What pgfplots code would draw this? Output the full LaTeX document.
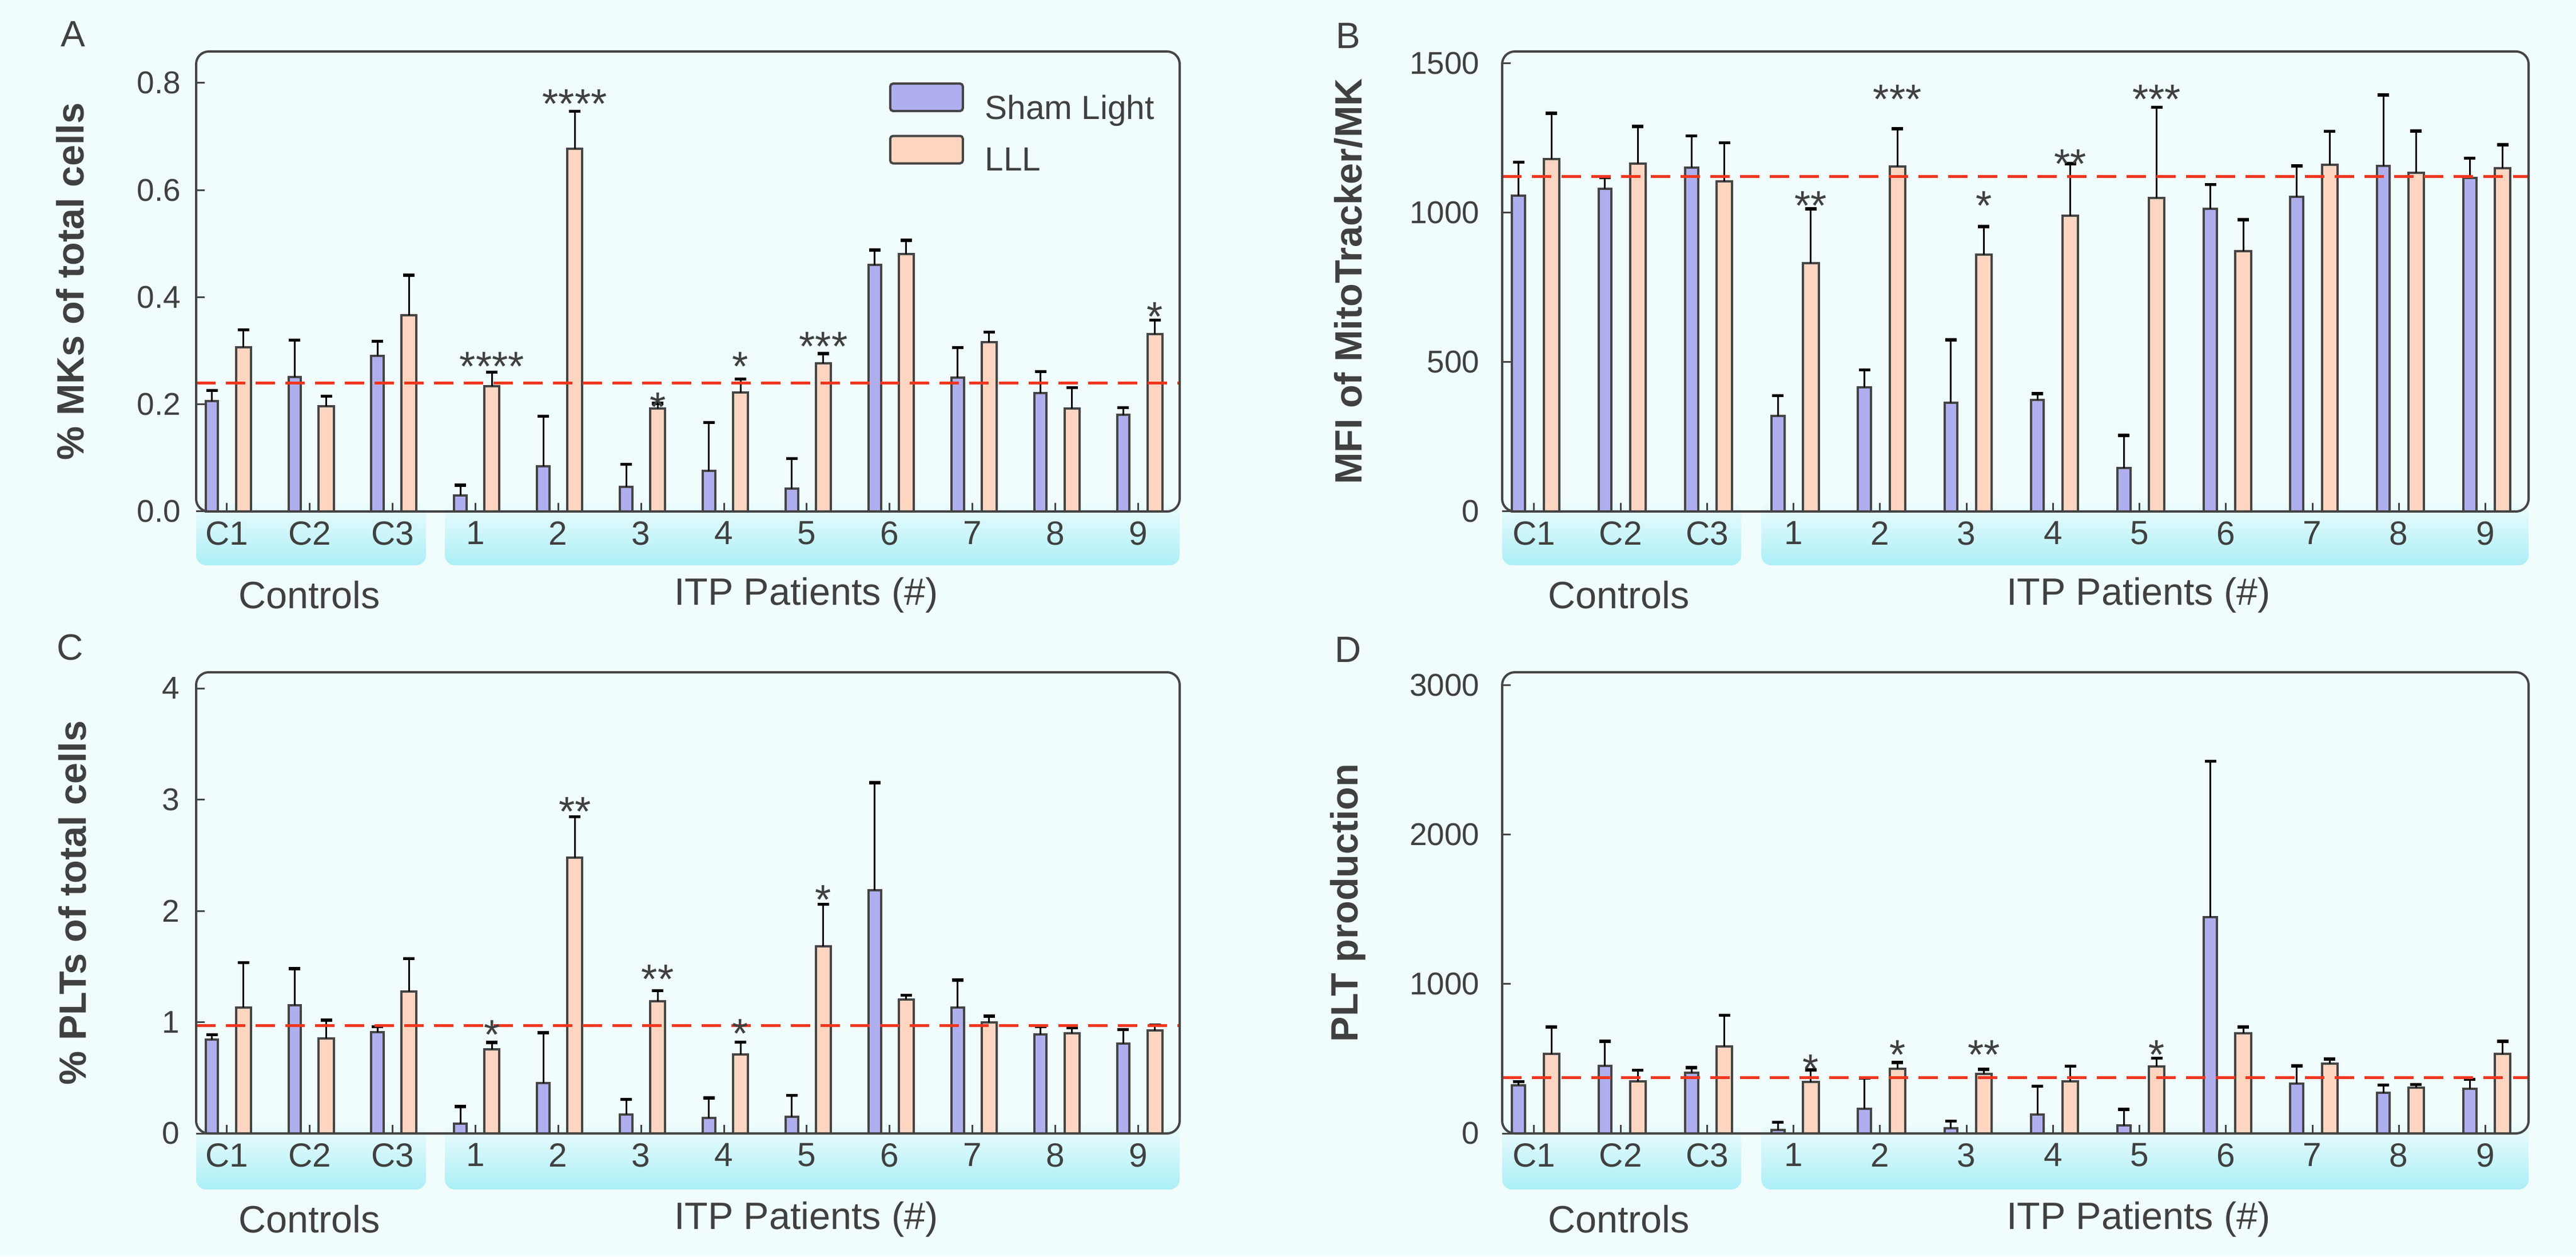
\documentclass[border=0pt]{standalone}
\usepackage{fontspec}
\setmainfont{Liberation Sans}
\usepackage{pgfplots}
\usepackage{pgfplotstable}
\pgfplotsset{compat=1.18}

\definecolor{bg}{HTML}{F1FDFD}
\definecolor{shamc}{HTML}{AFAFF0}
\definecolor{lllc}{HTML}{FDD5C0}
\definecolor{edgec}{HTML}{454545}
\definecolor{txt}{HTML}{404040}
\definecolor{redc}{HTML}{F0361E}
\definecolor{stripTop}{HTML}{EEFCFD}
\definecolor{stripBot}{HTML}{ABEFF6}

% x: C1,C2,C3,1..9 -> 0..11 ; s = Sham Light, se = error ; l = LLL, le = error
\pgfplotstableread{
x s se l le
0 0.206 0.020 0.306 0.033
1 0.251 0.069 0.197 0.018
2 0.291 0.027 0.366 0.075
3 0.030 0.019 0.234 0.026
4 0.084 0.094 0.677 0.070
5 0.046 0.042 0.192 0.010
6 0.076 0.090 0.222 0.025
7 0.043 0.056 0.277 0.018
8 0.460 0.028 0.481 0.025
9 0.250 0.056 0.316 0.019
10 0.221 0.040 0.192 0.039
11 0.180 0.014 0.331 0.026
}\dataA
\pgfplotstableread{
x s se l le
0 1058 111 1179 154
1 1081 37 1164 125
2 1152 105 1105 129
3 320 68 832 181
4 415 59 1155 126
5 364 211 860 94
6 374 21 991 174
7 146 109 1050 303
8 1013 82 871 106
9 1054 103 1160 113
10 1157 237 1133 141
11 1116 67 1150 78
}\dataB
\pgfplotstableread{
x s se l le
0 0.845 0.043 1.133 0.403
1 1.151 0.331 0.853 0.165
2 0.910 0.050 1.277 0.295
3 0.090 0.151 0.755 0.062
4 0.450 0.456 2.478 0.367
5 0.169 0.137 1.187 0.097
6 0.140 0.180 0.712 0.108
7 0.147 0.195 1.680 0.378
8 2.183 0.968 1.201 0.040
9 1.129 0.249 1.000 0.054
10 0.892 0.068 0.899 0.051
11 0.806 0.126 0.924 0.047
}\dataC
\pgfplotstableread{
x s se l le
0 322 24 533 180
1 453 164 349 75
2 405 35 582 209
3 24 51 346 80
4 166 204 432 43
5 35 48 397 32
6 126 190 349 101
7 54 107 450 54
8 1448 1045 670 43
9 335 118 466 33
10 273 51 306 21
11 300 62 531 86
}\dataD

\pgfplotsset{
  panel/.style={
    scale only axis, anchor=south west,
    xmin=-0.37, xmax=11.5, ymin=0,
    xtick={0,...,11}, xticklabels={C1,C2,C3,1,2,3,4,5,6,7,8,9},
    tick align=inside, xtick pos=lower, ytick pos=left,
    major tick length=3pt,
    tick style={edgec, line width=0.6pt},
    axis line style={draw=none},
    ticklabel style={font=\fontsize{11}{13}\selectfont, text=txt},
    xticklabel style={font=\fontsize{11.7}{13}\selectfont},
    /pgf/number format/assume math mode=true,
    /pgf/number format/1000 sep={},
    ylabel style={font=\bfseries\fontsize{13.3}{16}\selectfont, text=txt, anchor=center},
    clip=false,
    after end axis/.code={\draw[edgec, line width=0.8pt, rounded corners=4.4pt] (rel axis cs:0,0) rectangle (rel axis cs:1,1);},
  },
  sham/.style={ybar, bar width=0.15, bar shift=0pt, fill=shamc, draw=edgec, line width=0.8pt,
    /pgfplots/error bars/y dir=plus, /pgfplots/error bars/y explicit,
    /pgfplots/error bars/error bar style={black, line width=0.6pt},
    /pgfplots/error bars/error mark options={black, line width=1.1pt, mark size=2pt, rotate=90}},
  lll/.style={ybar, bar width=0.18, bar shift=0pt, fill=lllc, draw=edgec, line width=0.8pt,
    /pgfplots/error bars/y dir=plus, /pgfplots/error bars/y explicit,
    /pgfplots/error bars/error bar style={black, line width=0.6pt},
    /pgfplots/error bars/error mark options={black, line width=1.1pt, mark size=2pt, rotate=90}},
  meanline/.style={redc, line width=1pt, dash pattern=on 6.8pt off 3.6pt, forget plot},
}
\tikzset{star/.style={font=\fontsize{14.5}{16}\selectfont, text=txt, anchor=base, yshift=-8.3pt, inner sep=0pt}}

\begin{document}
\begin{tikzpicture}
\fill[bg] (0,0) rectangle (901pt,439.2pt);
\useasboundingbox (0,0) rectangle (901pt,439.2pt);

% category strips
\shade[top color=stripTop, bottom color=stripBot, rounded corners=3.5pt] (68.6pt,241.6pt) rectangle (149pt,263.6pt);
\shade[top color=stripTop, bottom color=stripBot, rounded corners=3.5pt] (155.6pt,241.6pt) rectangle (412.6pt,263.6pt);
\shade[top color=stripTop, bottom color=stripBot, rounded corners=3.5pt] (525.4pt,241.6pt) rectangle (609pt,263.6pt);
\shade[top color=stripTop, bottom color=stripBot, rounded corners=3.5pt] (616pt,241.6pt) rectangle (884.4pt,263.6pt);
\shade[top color=stripTop, bottom color=stripBot, rounded corners=3.5pt] (68.6pt,23.4pt) rectangle (149pt,46.2pt);
\shade[top color=stripTop, bottom color=stripBot, rounded corners=3.5pt] (155.6pt,23.4pt) rectangle (412.6pt,46.2pt);
\shade[top color=stripTop, bottom color=stripBot, rounded corners=3.5pt] (525.4pt,23.4pt) rectangle (609pt,46.2pt);
\shade[top color=stripTop, bottom color=stripBot, rounded corners=3.5pt] (616pt,23.4pt) rectangle (884.4pt,46.2pt);

% group names
\begin{scope}[every node/.style={font=\fontsize{13.3}{16}\selectfont, text=txt}]
\node at (108.2pt,231.2pt) {Controls};
\node at (282pt,231.2pt) {ITP Patients (\#)};
\node at (566.2pt,231.2pt) {Controls};
\node at (748pt,231.2pt) {ITP Patients (\#)};
\node at (108.2pt,13pt) {Controls};
\node at (282pt,13pt) {ITP Patients (\#)};
\node at (566.2pt,13pt) {Controls};
\node at (748pt,13pt) {ITP Patients (\#)};
\end{scope}
\begin{scope}[every node/.style={font=\fontsize{12.8}{15}\selectfont, text=txt}]
\node at (25.6pt,427.2pt) {A};
\node at (471.6pt,426.6pt) {B};
\node at (24.6pt,213pt) {C};
\node at (471.6pt,212.2pt) {D};
\end{scope}

% ---------- A ----------
\begin{axis}[panel, at={(68.6pt,260.4pt)}, width=344pt, height=160.8pt,
  ymax=0.8587, ytick={0,0.2,0.4,0.6,0.8},
  yticklabel style={/pgf/number format/fixed, /pgf/number format/fixed zerofill, /pgf/number format/precision=1, xshift=-1.8pt},
  ylabel={\% MKs of total cells}, ylabel style={at={(axis description cs:-0.128,0.5)}},
  legend image code/.code={\draw[#1, rounded corners=1pt] (0pt,-0.6pt) rectangle (25.4pt,9pt);},
  legend style={at={(rel axis cs:0.704,0.934)}, anchor=north west, draw=none, fill=none, inner sep=0pt,
    font=\fontsize{11.7}{14}\selectfont, text=txt, row sep=3.9pt, column sep=7.4pt, nodes={inner sep=0pt}},
  legend cell align=left]
\addplot[sham] table[x expr=\thisrow{x}-0.18, y=s, y error=se] {\dataA};
\addlegendentry{Sham Light}
\addplot[lll] table[x expr=\thisrow{x}+0.2, y=l, y error=le] {\dataA};
\addlegendentry{LLL}
\addplot[meanline] coordinates {(-0.37,0.240) (11.5,0.240)};
\node[star] at (axis cs:3.2,0.288) {****};
\node[star] at (axis cs:4.2,0.779) {****};
\node[star] at (axis cs:5.2,0.213) {*};
\node[star] at (axis cs:6.2,0.288) {*};
\node[star] at (axis cs:7.2,0.326) {***};
\node[star] at (axis cs:11.2,0.381) {*};
\end{axis}

% ---------- B ----------
\begin{axis}[panel, at={(525.4pt,260.4pt)}, width=359pt, height=160.8pt,
  ymax=1540, ytick={0,500,1000,1500},
  yticklabel style={xshift=-4.4pt},
  ylabel={MFI of MitoTracker/MK}, ylabel style={at={(axis description cs:-0.150,0.5)}}]
\addplot[sham] table[x expr=\thisrow{x}-0.18, y=s, y error=se] {\dataB};
\addplot[lll] table[x expr=\thisrow{x}+0.2, y=l, y error=le] {\dataB};
\addplot[meanline] coordinates {(-0.37,1122) (11.5,1122)};
\node[star] at (axis cs:3.2,1055) {**};
\node[star] at (axis cs:4.2,1411) {***};
\node[star] at (axis cs:5.2,1055) {*};
\node[star] at (axis cs:6.2,1196) {**};
\node[star] at (axis cs:7.2,1411) {***};
\end{axis}

% ---------- C ----------
\begin{axis}[panel, at={(68.6pt,43pt)}, width=344pt, height=161.2pt,
  ymax=4.144, ytick={0,1,2,3,4},
  yticklabel style={xshift=-2.2pt},
  ylabel={\% PLTs of total cells}, ylabel style={at={(axis description cs:-0.126,0.5)}}]
\addplot[sham] table[x expr=\thisrow{x}-0.18, y=s, y error=se] {\dataC};
\addplot[lll] table[x expr=\thisrow{x}+0.2, y=l, y error=le] {\dataC};
\addplot[meanline] coordinates {(-0.37,0.971) (11.5,0.971)};
\node[star] at (axis cs:3.2,0.971) {*};
\node[star] at (axis cs:4.2,2.978) {**};
\node[star] at (axis cs:5.2,1.468) {**};
\node[star] at (axis cs:6.2,0.982) {*};
\node[star] at (axis cs:7.2,2.187) {*};
\end{axis}

% ---------- D ----------
\begin{axis}[panel, at={(525.4pt,43pt)}, width=359pt, height=161.2pt,
  ymax=3088, ytick={0,1000,2000,3000},
  yticklabel style={xshift=-4.4pt},
  ylabel={PLT production}, ylabel style={at={(axis description cs:-0.150,0.5)}}]
\addplot[sham] table[x expr=\thisrow{x}-0.18, y=s, y error=se] {\dataD};
\addplot[lll] table[x expr=\thisrow{x}+0.2, y=l, y error=le] {\dataD};
\addplot[meanline] coordinates {(-0.37,373) (11.5,373)};
\node[star] at (axis cs:3.2,496) {*};
\node[star] at (axis cs:4.2,590) {*};
\node[star] at (axis cs:5.2,590) {**};
\node[star] at (axis cs:7.2,590) {*};
\end{axis}
\end{tikzpicture}
\end{document}
